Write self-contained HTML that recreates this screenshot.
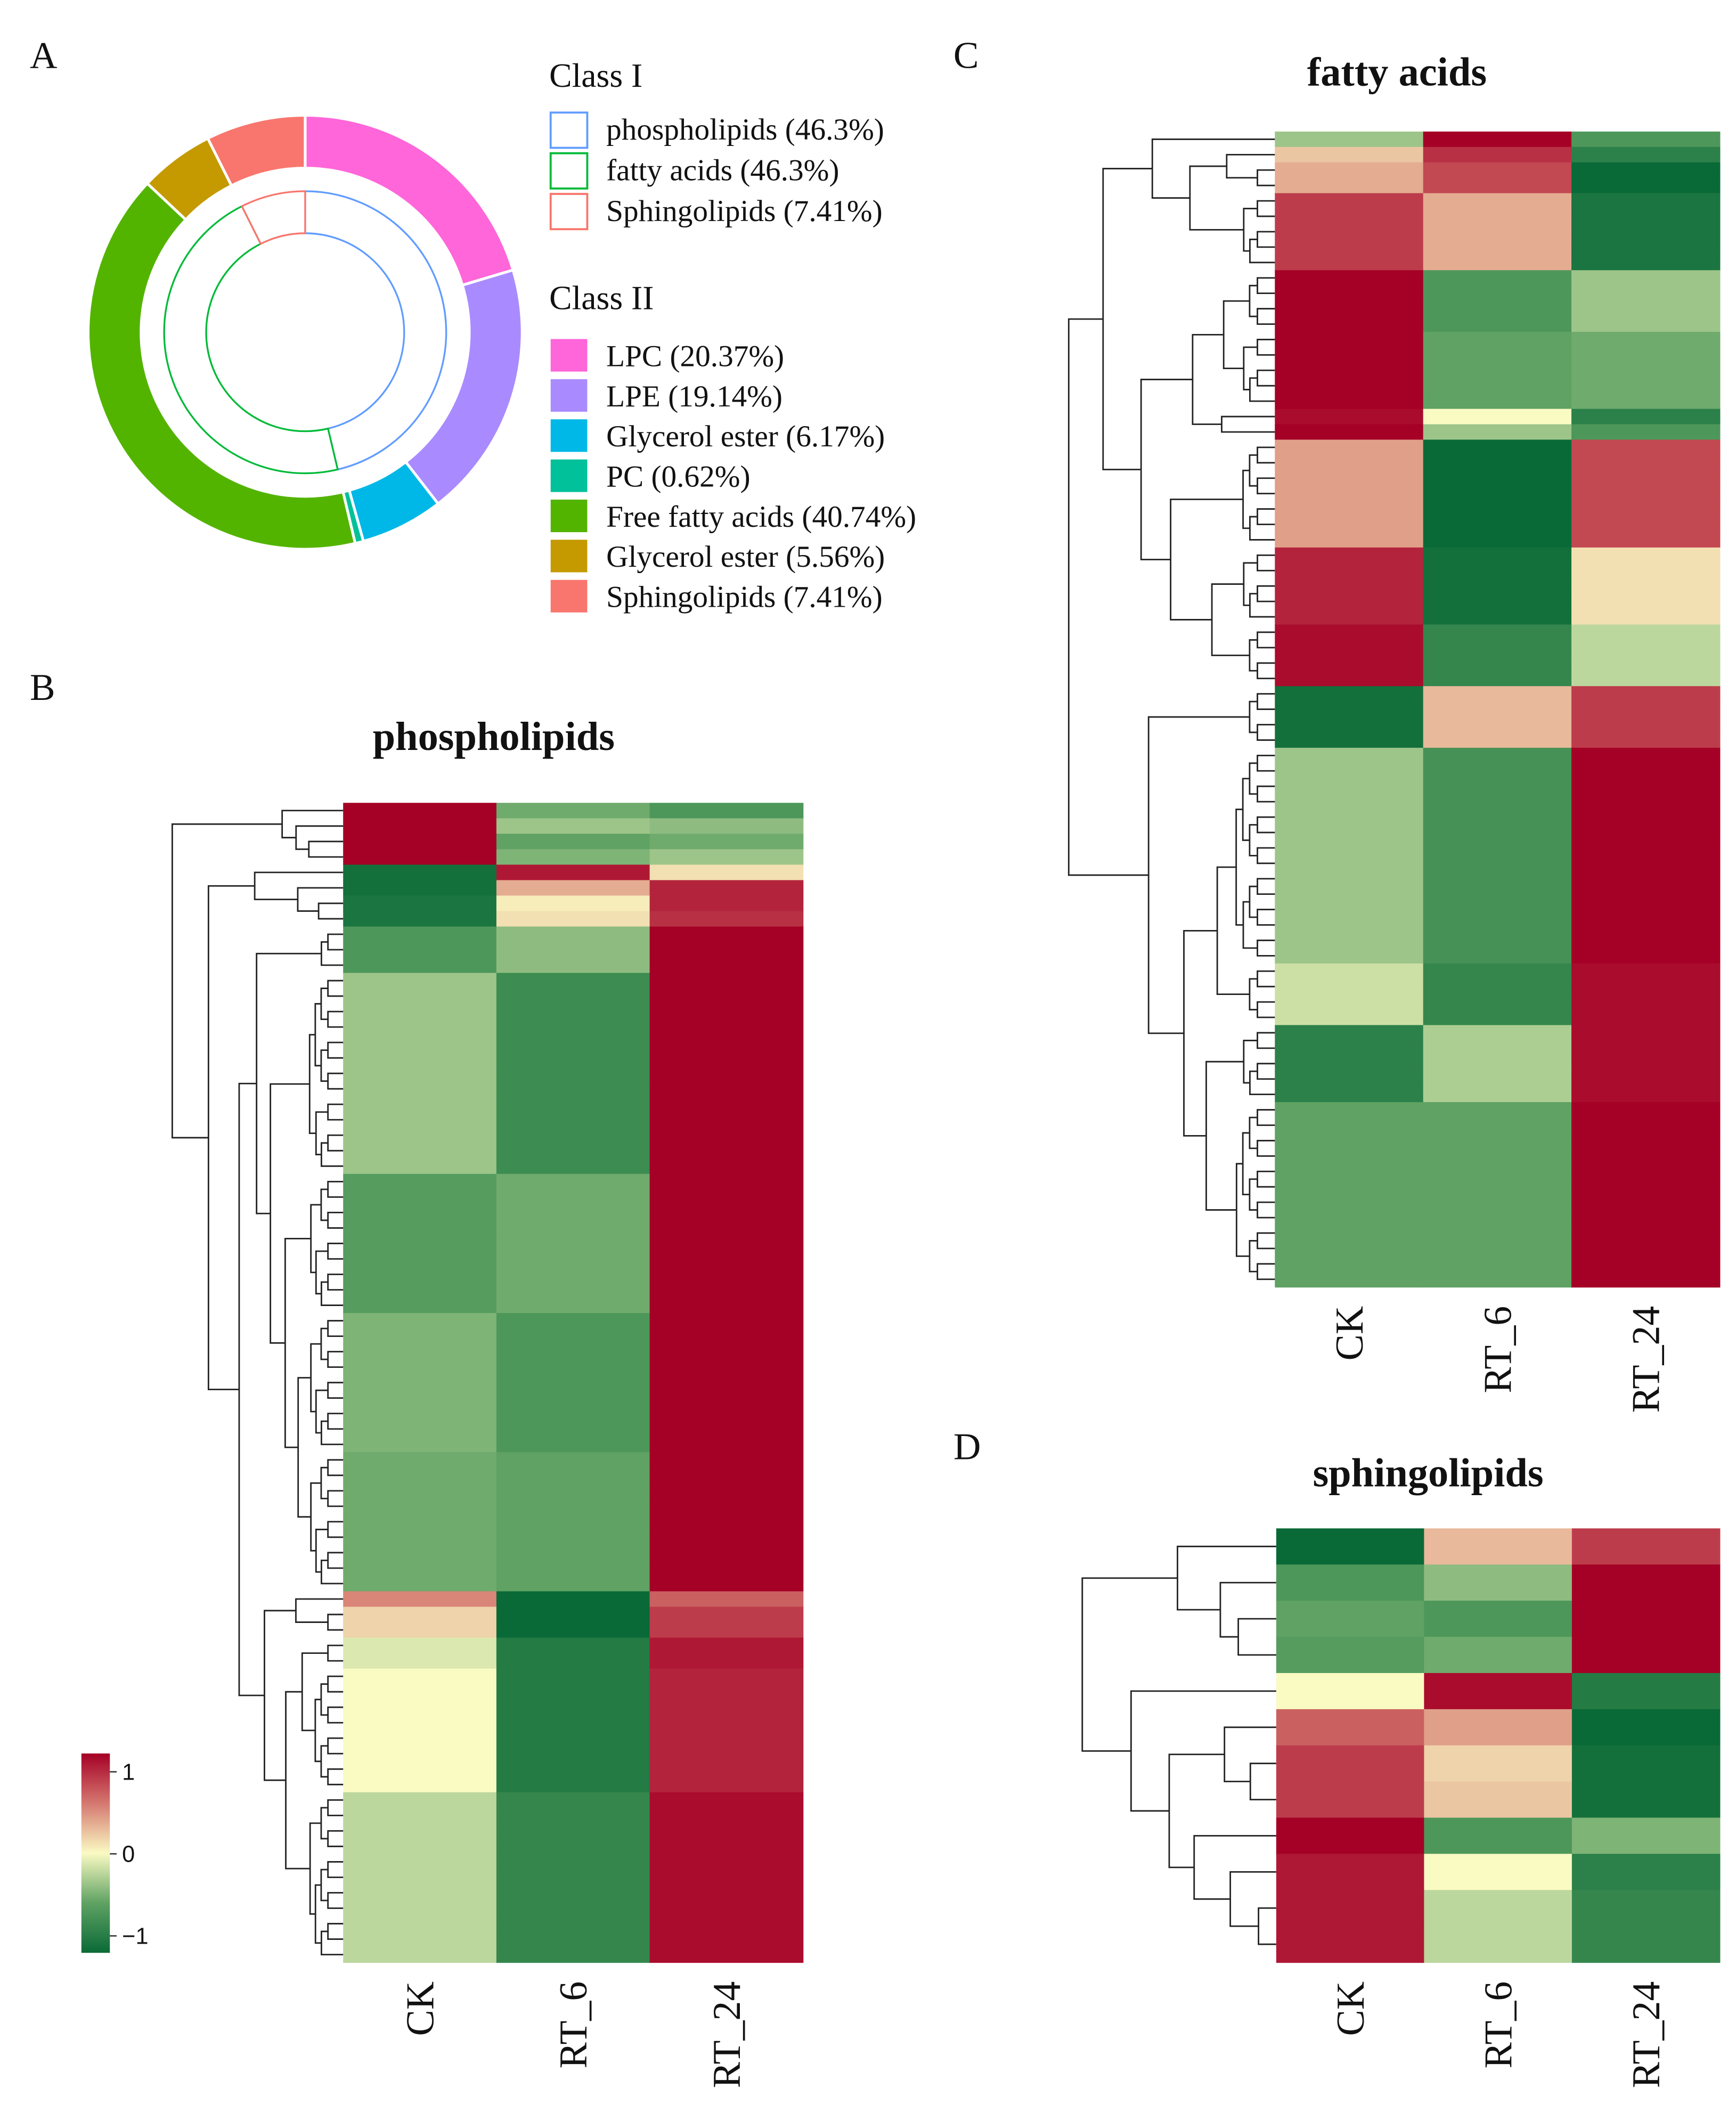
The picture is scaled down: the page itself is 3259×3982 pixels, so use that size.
<!DOCTYPE html>
<html><head><meta charset="utf-8"><style>
html,body{margin:0;padding:0;background:#fff;}
svg{display:block;}
text{font-family:"Liberation Serif",serif;fill:#111;}
</style></head><body>
<svg id="fig" width="3259" height="3982" viewBox="0 0 1280 1564" xmlns="http://www.w3.org/2000/svg">
<rect width="1280" height="1564" fill="#fff"/>
<text x="22" y="50" font-size="28">A</text>
<text x="22" y="516" font-size="28">B</text>
<text x="703" y="50" font-size="28">C</text>
<text x="703" y="1076" font-size="28">D</text>
<g id="donut"></g>
<g id="legend"></g>
<g id="hmB"></g>
<g id="hmC"></g>
<g id="hmD"></g>
<g id="cbar"></g>
</svg>
<script>
// ---- Donut data ----
const class1Names = ["phospholipids (46.3%)","fatty acids (46.3%)","Sphingolipids (7.41%)"];
const class1Values = [46.3,46.3,7.41];
const class1Colors = ["#619CFF","#00BA38","#F8766D"];
const class2Names = ["LPC (20.37%)","LPE (19.14%)","Glycerol ester (6.17%)","PC (0.62%)","Free fatty acids (40.74%)","Glycerol ester (5.56%)","Sphingolipids (7.41%)"];
const class2Values = [20.37,19.14,6.17,0.62,40.74,5.56,7.41];
const class2Colors = ["#FF66D9","#A98BFF","#00B8E7","#00C19A","#53B400","#C49A00","#F8766D"];
// ---- Heatmap data (row blocks: [count, CK, RT_6, RT_24]) ----
const columns = ["CK","RT_6","RT_24"];
const phosphoBlocks = [[1,1,-0.45,-0.6],[1,1,-0.3,-0.35],[1,1,-0.5,-0.45],[1,1,-0.4,-0.3],[1,-0.95,0.9,0.1],[1,-0.95,0.3,0.85],[1,-0.9,0.05,0.85],[1,-0.9,0.1,0.8],[3,-0.6,-0.35,1],[13,-0.3,-0.7,1],[9,-0.55,-0.45,1],[9,-0.4,-0.6,1],[9,-0.45,-0.5,1],[1,0.45,-1,0.6],[2,0.15,-1,0.75],[2,-0.1,-0.85,0.9],[8,0.0,-0.85,0.85],[11,-0.2,-0.75,0.95]];
const fattyBlocks = [[1,-0.3,1,-0.6],[1,0.2,0.8,-0.8],[2,0.3,0.7,-1],[5,0.75,0.3,-0.9],[4,1,-0.6,-0.3],[5,1,-0.5,-0.45],[1,0.95,0.0,-0.8],[1,1,-0.3,-0.6],[7,0.35,-1,0.7],[5,0.85,-0.95,0.1],[4,0.95,-0.75,-0.2],[4,-0.95,0.25,0.75],[14,-0.3,-0.65,1],[4,-0.15,-0.75,0.95],[5,-0.8,-0.25,0.95],[12,-0.5,-0.5,1]];
const sphingoBlocks = [[1,-1,0.25,0.75],[1,-0.6,-0.35,1],[1,-0.5,-0.6,1],[1,-0.55,-0.45,1],[1,0.0,0.95,-0.85],[1,0.6,0.35,-1],[1,0.75,0.15,-0.95],[1,0.75,0.2,-0.95],[1,1,-0.6,-0.4],[1,0.9,0.0,-0.8],[1,0.9,-0.2,-0.75],[1,0.9,-0.2,-0.75]];
const scaleTicks = [1,0,-1];

const NS="http://www.w3.org/2000/svg";
function mk(tag,attrs,parent){const e=document.createElementNS(NS,tag);for(const k in attrs)e.setAttribute(k,attrs[k]);parent.appendChild(e);return e;}
const stops=[[-1,[10,106,55]],[-0.5,[95,162,99]],[0,[250,250,195]],[0.5,[213,120,112]],[1,[165,0,38]]];
function color(v){v=Math.max(-1,Math.min(1,v));for(let i=0;i<stops.length-1;i++){const a=stops[i],b=stops[i+1];if(v<=b[0]){const t=(v-a[0])/(b[0]-a[0]);const c=a[1].map((x,j)=>Math.round(x+(b[1][j]-x)*t));return `rgb(${c})`;}}return 'rgb(165,0,38)';}

// ---- Donut ----
const donut=document.getElementById('donut');
const cx=225,cy=245;
function pt(r,a){return [cx+r*Math.sin(a),cy-r*Math.cos(a)];}
function sector(r0,r1,a0,a1){const large=(a1-a0)>Math.PI?1:0;const p1=pt(r1,a0),p2=pt(r1,a1),p3=pt(r0,a1),p4=pt(r0,a0);
return `M${p1}A${r1},${r1} 0 ${large} 1 ${p2}L${p3}A${r0},${r0} 0 ${large} 0 ${p4}Z`;}
function drawRing(values,colors,r0,r1,outline,nm){const tot=values.reduce((a,b)=>a+b,0);let a=0;
values.forEach((v,i)=>{const a1=a+v/tot*2*Math.PI;
const p=mk('path',{d:sector(r0,r1,a,a1),fill:outline?'#fff':colors[i],stroke:outline?colors[i]:'#fff','stroke-width':outline?1.3:2},donut);


a=a1;});}
drawRing(class2Values,class2Colors,121,160,false,'class2');
drawRing(class1Values,class1Colors,73,104,true,'class1');

// ---- Legend ----
const lg=document.getElementById('legend');
let t=mk('text',{x:405,y:64,'font-size':25},lg);t.textContent='Class I';


class1Names.forEach((n,i)=>{const y=83+i*30;
const r=mk('rect',{x:406,y:y,width:27,height:26,fill:'#fff',stroke:class1Colors[i],'stroke-width':1.5},lg);


const tx=mk('text',{x:447,y:y+20,'font-size':22.5},lg);tx.textContent=n;

});
t=mk('text',{x:405,y:228,'font-size':25},lg);t.textContent='Class II';


class2Names.forEach((n,i)=>{const y=250+i*29.6;
const r=mk('rect',{x:406,y:y,width:27,height:24,fill:class2Colors[i]},lg);


const tx=mk('text',{x:447,y:y+20,'font-size':22.5},lg);tx.textContent=n;

});

// ---- Heatmaps ----
function expand(blocks){const rows=[];blocks.forEach(b=>{for(let i=0;i<b[0];i++)rows.push([b[1],b[2],b[3]]);});return rows;}
function heatmap(gid,blocks,opt){
const g=document.getElementById(gid);const rows=expand(blocks);const n=rows.length;
const rh=(opt.y1-opt.y0)/n;const cw=(opt.x1-opt.x0)/3;
rows.forEach((r,i)=>r.forEach((v,j)=>{
const c=mk('rect',{x:opt.x0+j*cw,y:opt.y0+i*rh,width:cw+0.4,height:rh+0.4,fill:color(v)},g);

}));
const tt=mk('text',{x:opt.tx,y:opt.ty,'font-size':30,'font-weight':'bold','text-anchor':'middle'},g);tt.textContent=opt.title;


columns.forEach((c,j)=>{const x=opt.x0+(j+0.5)*cw+10;
const l=mk('text',{x:0,y:0,'font-size':29,'text-anchor':'end',transform:`translate(${x},${opt.y1+14}) rotate(-90)`},g);l.textContent=c;

});
let cl=rows.map((r,i)=>({y:opt.y0+(i+0.5)*rh,h:0,v:r.slice(),n:1}));
while(cl.length>1){let best=0,bd=1e9;
for(let i=0;i<cl.length-1;i++){const a=cl[i].v,b=cl[i+1].v;const d=Math.sqrt(a.reduce((s,x,k)=>s+(x-b[k])**2,0));const sc=d+0.002*(cl[i].n+cl[i+1].n);if(sc<bd){bd=sc;best=i;}}
const A=cl[best],B=cl[best+1];const h=Math.max(A.h,B.h)+bd+0.04;
const node={y:(A.y+B.y)/2,h:h,n:A.n+B.n,v:A.v.map((x,k)=>(x*A.n+B.v[k]*B.n)/(A.n+B.n)),ch:[A,B]};
cl.splice(best,2,node);}
const root=cl[0];const W=opt.x0-opt.dx;const H=Math.sqrt(root.h);
const X=h=>opt.x0-Math.sqrt(h)/H*W;
let d='';
(function walk(nd){if(!nd.ch)return;const x=X(nd.h);const [a,b]=nd.ch;
d+=`M${X(a.h)},${a.y}H${x}V${b.y}H${X(b.h)}`;walk(a);walk(b);})(root);
const p=mk('path',{d:d,fill:'none',stroke:'#222','stroke-width':1.1},g);


}
heatmap('hmB',phosphoBlocks,{x0:253,x1:592,y0:592,y1:1447,dx:127,title:'phospholipids',tx:364,ty:553});
heatmap('hmC',fattyBlocks,{x0:940,x1:1268,y0:97,y1:949,dx:788,title:'fatty acids',tx:1030,ty:63});
heatmap('hmD',sphingoBlocks,{x0:941,x1:1268,y0:1127,y1:1447,dx:798,title:'sphingolipids',tx:1053,ty:1096});

// ---- Color bar ----
const cb=document.getElementById('cbar');
const defs=mk('defs',{},cb);const lgd=mk('linearGradient',{id:'cg',x1:0,y1:0,x2:0,y2:1},defs);
stops.slice().reverse().forEach(s=>mk('stop',{offset:((1-s[0])/2*100)+'%','stop-color':color(s[0])},lgd));
const bar=mk('rect',{x:60,y:1293,width:21,height:147,fill:'url(#cg)'},cb);


scaleTicks.forEach(v=>{const y=1367-v*60.5;
mk('line',{x1:81,x2:86,y1:y,y2:y,stroke:'#333','stroke-width':1},cb);
const tx=mk('text',{x:90,y:y+6,'font-size':17,style:'font-family:"Liberation Sans",sans-serif'},cb);tx.textContent=v<0?'\u22121':String(v);

});
</script>
</body></html>
